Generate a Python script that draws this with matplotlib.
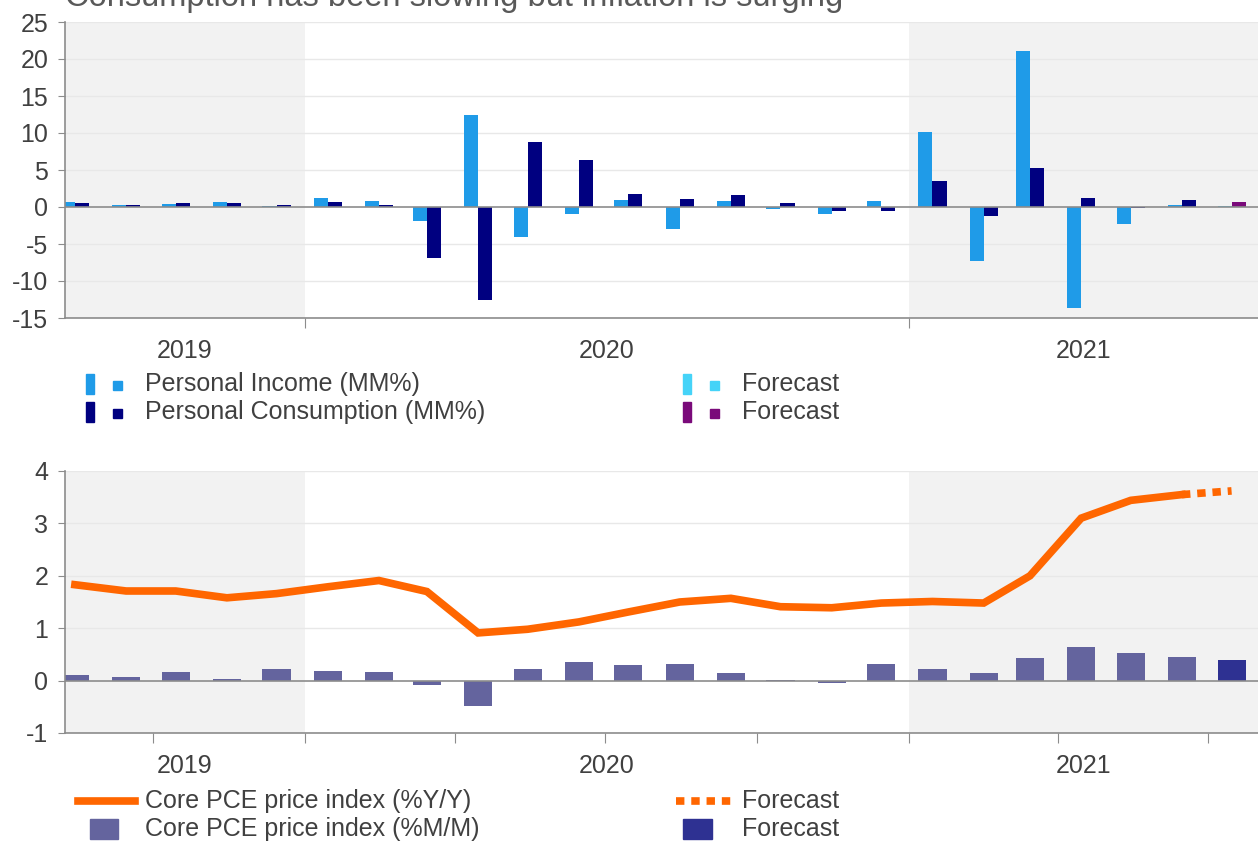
import matplotlib
matplotlib.use('Agg')
import matplotlib.pyplot as plt
from matplotlib.patches import Rectangle
from matplotlib.lines import Line2D
import pandas as pd

# monthly data, Aug 2019 - Jul 2021 (last month is the forecast)
months = pd.date_range('2019-08-01', '2021-07-01', freq='MS') + pd.Timedelta(days=14)
income = [0.7, 0.3, 0.45, 0.7, 0.1, 1.2, 0.85, -1.9, 12.5, -4.1, -1.0, 1.0,
          -3.0, 0.85, -0.3, -1.0, 0.85, 10.1, -7.3, 21.1, -13.7, -2.3, 0.25]
consumption = [0.5, 0.3, 0.5, 0.5, 0.3, 0.7, 0.3, -6.9, -12.6, 8.8, 6.4, 1.8,
               1.05, 1.6, 0.5, -0.6, -0.6, 3.45, -1.2, 5.3, 1.2, -0.1, 1.0]
income_fc = [0.2]
consumption_fc = [0.7]

core_yy = [1.83, 1.71, 1.71, 1.58, 1.66, 1.79, 1.91, 1.70, 0.91, 0.98, 1.12, 1.31,
           1.50, 1.57, 1.41, 1.39, 1.48, 1.51, 1.48, 2.0, 3.1, 3.44, 3.55]
core_yy_fc = [3.62]
core_mm = [0.11, 0.06, 0.17, 0.03, 0.22, 0.19, 0.17, -0.08, -0.48, 0.22, 0.35, 0.29,
           0.32, 0.15, 0.01, -0.04, 0.32, 0.22, 0.14, 0.43, 0.64, 0.53, 0.45]
core_mm_fc = [0.40]

years = [2019, 2020, 2021]
title = 'Consumption has been slowing but inflation is surging'

plt.rcParams['font.family'] = ['Liberation Sans', 'DejaVu Sans']
plt.rcParams['axes.unicode_minus'] = False

W, H = 1258, 841
fig = plt.figure(figsize=(W / 100, H / 100), dpi=100)

def fx(px):
    return px / W

def fy(py):
    return 1 - py / H

c_inc, c_con = '#1F9BE8', '#000080'
c_inc_fc, c_con_fc = '#45D3F8', '#7A0A7A'
c_line, c_mm, c_mm_fc = '#FF6600', '#64649E', '#2E3192'
grey_txt = '#404040'
shade = '#F2F2F2'
fs = 18

xmin = pd.Timestamp('2019-08-09')
xmax = pd.Timestamp('2021-07-31')
actual = months[:-1]
fc = months[-1:]


def style_axis(ax, ymin, ymax, ystep, major):
    ax.set_xlim(xmin, xmax)
    ax.set_ylim(ymin, ymax)
    # shaded years
    ax.axvspan(xmin, pd.Timestamp('2020-01-01'), color=shade, zorder=0, lw=0)
    ax.axvspan(pd.Timestamp('2021-01-01'), xmax, color=shade, zorder=0, lw=0)
    ticks = list(range(ymin, ymax + 1, ystep))
    ax.set_yticks(ticks)
    for t in ticks:
        if t != 0:
            ax.axhline(t, color='#E8E8E8', lw=1, zorder=0.5)
    ax.axhline(0, color='#8C8C8C', lw=1.2, zorder=3)
    for s in ['top', 'right']:
        ax.spines[s].set_visible(False)
    for s in ['left', 'bottom']:
        ax.spines[s].set_color('#8C8C8C')
        ax.spines[s].set_linewidth(1.2)
    ax.tick_params(axis='y', length=5, color='#8C8C8C', labelsize=fs,
                   labelcolor=grey_txt, pad=7)
    ax.set_xticks(major)
    ax.tick_params(axis='x', which='major', length=7, color='#8C8C8C',
                   labelbottom=False)
    # year labels centred in the visible part of each year
    mids = []
    for y in years:
        a = max(pd.Timestamp(f'{y}-01-01'), xmin)
        b = min(pd.Timestamp(f'{y + 1}-01-01'), xmax)
        mids.append(a + (b - a) / 2)
    ax.set_xticks(mids, minor=True)
    ax.set_xticklabels([str(y) for y in years], minor=True)
    ax.tick_params(axis='x', which='minor', length=0, labelsize=fs,
                   labelcolor=grey_txt, pad=15)


# top panel: income and consumption
ax1 = fig.add_axes([fx(65), fy(318), fx(1193), 296 / H])
bw = pd.Timedelta(days=8.5)
ax1.bar(actual - bw / 2, income, width=bw, color=c_inc, zorder=2)
ax1.bar(actual + bw / 2, consumption, width=bw, color=c_con, zorder=2)
ax1.bar(fc - bw / 2, income_fc, width=bw, color=c_inc_fc, zorder=2)
ax1.bar(fc + bw / 2, consumption_fc, width=bw, color=c_con_fc, zorder=2)
style_axis(ax1, -15, 25, 5,
           [pd.Timestamp('2020-01-01'), pd.Timestamp('2021-01-01')])

# bottom panel: core PCE
ax2 = fig.add_axes([fx(65), fy(733), fx(1193), 262 / H])
bw2 = pd.Timedelta(days=17)
ax2.bar(actual, core_mm, width=bw2, color=c_mm, zorder=2)
ax2.bar(fc, core_mm_fc, width=bw2, color=c_mm_fc, zorder=2)
ax2.plot(actual, core_yy, color=c_line, lw=5.5, zorder=4, solid_joinstyle='miter')
ax2.plot([actual[-1], fc[0]], [core_yy[-1], core_yy_fc[0]], color=c_line, lw=5.5,
         ls=(0, (1.1, 0.9)), dash_capstyle='butt', zorder=4)
quarters = pd.date_range('2019-10-01', '2021-07-01', freq='QS')
style_axis(ax2, -1, 4, 1, list(quarters))

# title (clipped by the top edge as in the source)
fig.text(fx(65), fy(6), title, fontsize=23.5, color='#595959', va='baseline', ha='left')


# legends
def bar_key(x, y, color):
    fig.add_artist(Rectangle((fx(x), fy(y + 10)), fx(8), 20 / H, color=color,
                             transform=fig.transFigure))
    fig.add_artist(Rectangle((fx(x + 27), fy(y + 6)), fx(9), 9 / H, color=color,
                             transform=fig.transFigure))


def label(x, y, s):
    fig.text(fx(x), fy(y), s, fontsize=fs, color=grey_txt, va='center', ha='left')


bar_key(86, 384, c_inc)
label(145, 384, 'Personal Income (MM%)')
bar_key(86, 412, c_con)
label(145, 412, 'Personal Consumption (MM%)')
bar_key(683, 384, c_inc_fc)
label(742, 384, 'Forecast')
bar_key(683, 412, c_con_fc)
label(742, 412, 'Forecast')

fig.add_artist(Line2D([fx(78), fx(135)], [fy(801), fy(801)], color=c_line, lw=5.5,
                      transform=fig.transFigure))
label(145, 801, 'Core PCE price index (%Y/Y)')
fig.add_artist(Rectangle((fx(90), fy(839)), fx(28), 20 / H, color=c_mm,
                         transform=fig.transFigure))
label(145, 829, 'Core PCE price index (%M/M)')
fig.add_artist(Line2D([fx(676), fx(736)], [fy(801), fy(801)], color=c_line, lw=5.5,
                      ls=(0, (1.1, 0.9)), dash_capstyle='butt',
                      transform=fig.transFigure))
label(742, 801, 'Forecast')
fig.add_artist(Rectangle((fx(683), fy(839)), fx(29), 20 / H, color=c_mm_fc,
                         transform=fig.transFigure))
label(742, 829, 'Forecast')

fig.savefig('out.png', dpi=100)
